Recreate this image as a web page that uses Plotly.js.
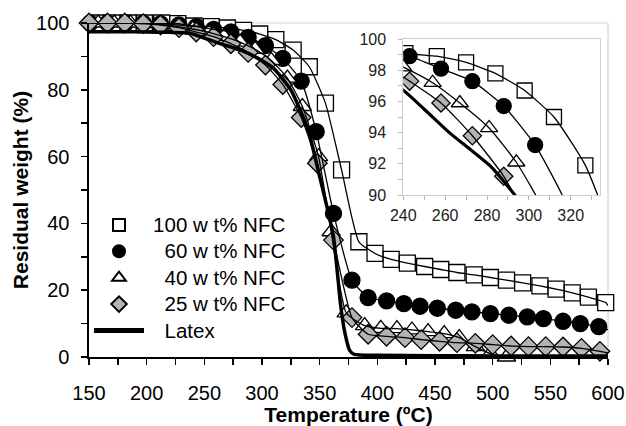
<!DOCTYPE html>
<html>
<head>
<meta charset="utf-8">
<script src="https://cdn.plot.ly/plotly-3.0.1.min.js"></script>
<style>html,body{margin:0;padding:0;background:#fff;}#chart{width:626px;height:426px;}</style>
</head>
<body>
<div id="chart"></div>
<script>
// ---- Data ----
const seriesNames = ['\u2009100 w t% NFC', '\u2009\u200760 w t% NFC', '\u2009\u200740 w t% NFC', '\u2009\u200725 w t% NFC', '\u2009\u2007Latex'];

const temp100 = [156,170,184,198,213,227,241,256,270,284,298,312,327,341,355,369,384,398,412,426,441,455,469,484,498,512,526,541,555,569,583,598];
const wt100   = [100,100,100,100,100,99.8,99.1,98.9,98.5,97.8,96.7,95.0,91.9,86.9,76,56,34.5,31,29.2,28.1,27.1,26.2,25.3,24.6,23.8,23.0,22.2,21.3,20.3,19.2,17.9,16.3];

const temp60 = [151,166,182,197,212,228,243,258,273,288,303,318,334,347,362,378,392,408,423,437,452,468,482,498,514,530,544,561,576,592];
const wt60   = [100,100,100,100,99.8,99.4,98.9,98.1,97.3,95.7,93.2,89.4,82.6,67.5,43,23,17.8,16.8,16.0,15.2,14.6,14.0,13.5,13.0,12.5,12.0,11.5,10.7,10.0,9.1];

const temp40 = [158,172,186,199,213,226,240,254,267,281,294,308,322,335,349,360,373,389,403,417,430,444,458,471,485,498,512];
const wt40   = [100,100,100,99.8,99.5,99.0,98.2,97.2,95.9,94.3,92.1,88.8,83.5,75,60,37.5,13.2,9.4,8.6,8.5,8.1,7.6,7.0,5.8,3.1,1.0,0];

const temp25 = [150,166,181,197,212,228,243,258,273,288,303,318,334,348,362,378,392,408,424,438,454,469,485,500,516,531,546,561,577,593];
const wt25   = [100,100,100,99.8,99.4,98.6,97.3,95.9,93.8,91.2,87.4,81.6,71.7,58,35,11.8,6.8,6.2,5.8,5.2,4.7,4.3,4.1,3.7,3.3,3.1,3.1,3.0,2.6,1.7];

// line continuation to the end of the run (no marker)
const endTemp = 600;
const endWt = [15.4, 8.2, 0, 1.2];

const tempLatex = [150,175,200,220,237,250,262,282,295,310,325,340,350,357,362,366,368,372,376,380,400,450,500,550,600];
const wtLatex   = [97.4,97.4,97.3,97.2,97.0,95.5,94.0,91.8,89.7,86.4,80,68,54,44,36,23,16,7,2,0.8,0.5,0.4,0.3,0.3,0.3];

const mainXTicks = [150,200,250,300,350,400,450,500,550,600];
const insetXTicks = [240,260,280,300,320];

// ---- Styles ----
const markerStyles = [
  {symbol:'square', color:'white'},
  {symbol:'circle', color:'black'},
  {symbol:'triangle-up', color:'white'},
  {symbol:'diamond', color:'#b3b3b3'}
];
const markerSizes = [16, 16, 16, 15];
const temps = [temp100, temp60, temp40, temp25];
const wts = [wt100, wt60, wt40, wt25];
const legendText = s => '<span style="font-size:20.5px">' + s + '</span>';

const traces = [];
// main panel: markers
for (let i = 0; i < 4; i++) {
  traces.push({
    x: temps[i], y: wts[i], xaxis:'x', yaxis:'y', type:'scatter', mode:'markers',
    name: legendText(seriesNames[i]), showlegend:true, cliponaxis:false,
    marker:{symbol:markerStyles[i].symbol, color:markerStyles[i].color, size:markerSizes[i], line:{color:'black', width:1.3}}
  });
}
// main panel: lines
for (let i = 0; i < 4; i++) {
  traces.push({
    x: temps[i].concat([endTemp]), y: wts[i].concat([endWt[i]]), xaxis:'x', yaxis:'y', type:'scatter', mode:'lines',
    showlegend:false, cliponaxis:false, hoverinfo:'skip',
    line:{color:'black', width:1.3, shape:'spline', smoothing:0.5}
  });
}
traces.push({
  x: tempLatex, y: wtLatex, xaxis:'x', yaxis:'y', type:'scatter', mode:'lines',
  name: legendText(seriesNames[4]), showlegend:true, cliponaxis:false,
  line:{color:'black', width:3.5, shape:'spline', smoothing:0.5}
});
// inset panel
for (let i = 0; i < 4; i++) {
  traces.push({
    x: temps[i], y: wts[i], xaxis:'x2', yaxis:'y2', type:'scatter', mode:'markers', showlegend:false,
    marker:{symbol:markerStyles[i].symbol, color:markerStyles[i].color, size:markerSizes[i] - 1, line:{color:'black', width:1.3}}
  });
}
for (let i = 0; i < 4; i++) {
  traces.push({
    x: temps[i].concat([endTemp]), y: wts[i].concat([endWt[i]]), xaxis:'x2', yaxis:'y2', type:'scatter', mode:'lines', showlegend:false,
    line:{color:'black', width:1.3, shape:'spline', smoothing:0.5}
  });
}
traces.push({
  x: tempLatex, y: wtLatex, xaxis:'x2', yaxis:'y2', type:'scatter', mode:'lines', showlegend:false,
  line:{color:'black', width:3.2, shape:'spline', smoothing:0.5}
});

const FONT = 'Liberation Sans, Arial, Helvetica, sans-serif';
const layout = {
  width:626, height:426,
  margin:{l:89, r:18, t:23, b:69},
  paper_bgcolor:'white', plot_bgcolor:'white',
  font:{family:FONT, color:'black', size:20},
  showlegend:true,
  legend:{x:0.0, y:0.45, xanchor:'left', yanchor:'top', font:{family:FONT, size:18, color:'black'},
          bgcolor:'rgba(0,0,0,0)', itemsizing:'constant', itemwidth:50, tracegroupgap:0},
  xaxis:{
    domain:[0,1], range:[150,600], tickvals:mainXTicks, ticks:'outside', ticklen:6, tickwidth:1.5, tickcolor:'black',
    showline:true, linecolor:'black', linewidth:1.6, showgrid:false, zeroline:false,
    tickfont:{family:FONT, size:20}, ticklabelstandoff:11,
    minor:{dtick:25, tick0:150, ticks:'outside', ticklen:6, tickwidth:1.5, tickcolor:'black'},
    title:{text:'<b>Temperature (ºC)</b>', font:{family:FONT, size:21}, standoff:8}
  },
  yaxis:{
    domain:[0,1], range:[0,100], dtick:20, tick0:0, ticks:'outside', ticklen:6, tickwidth:1.5, tickcolor:'black',
    showline:true, linecolor:'black', linewidth:1.6, showgrid:false, zeroline:false,
    tickfont:{family:FONT, size:20}, ticklabelstandoff:8,
    minor:{dtick:10, tick0:0, ticks:'outside', ticklen:6, tickwidth:1.5, tickcolor:'black'},
    title:{text:'<b>Residual weight (%)</b>', font:{family:FONT, size:21}, standoff:1}
  },
  xaxis2:{
    domain:[0.6056,0.9846], anchor:'y2', range:[240,334], tickvals:insetXTicks, ticks:'outside', ticklen:4, tickcolor:'#b8b8b8',
    showline:true, mirror:true, linecolor:'#cfcfcf', linewidth:1, showgrid:false, zeroline:false,
    tickfont:{family:FONT, size:16, color:'#222'}, ticklabelstandoff:2,
    minor:{dtick:10, tick0:240, ticks:'outside', ticklen:4, tickcolor:'#b8b8b8'}
  },
  yaxis2:{
    domain:[0.485,0.952], anchor:'x2', range:[90,100], dtick:2, tick0:90, ticks:'outside', ticklen:4, tickcolor:'#b8b8b8',
    showline:true, mirror:true, linecolor:'#cfcfcf', linewidth:1, showgrid:false, zeroline:false,
    tickfont:{family:FONT, size:16, color:'#222'}, ticklabelstandoff:9,
    minor:{dtick:1, tick0:90, ticks:'outside', ticklen:4, tickcolor:'#b8b8b8'}
  },
  shapes:[
    {type:'line', xref:'paper', yref:'paper', x0:0, x1:1, y0:1, y1:1, layer:'below', line:{color:'#d6d6d6', width:1.2}},
    {type:'line', xref:'paper', yref:'paper', x0:1, x1:1, y0:0.03, y1:1, layer:'below', line:{color:'#d6d6d6', width:1.2}}
  ]
};

Plotly.newPlot('chart', traces, layout, {displayModeBar:false, staticPlot:true});
</script>
</body>
</html>
